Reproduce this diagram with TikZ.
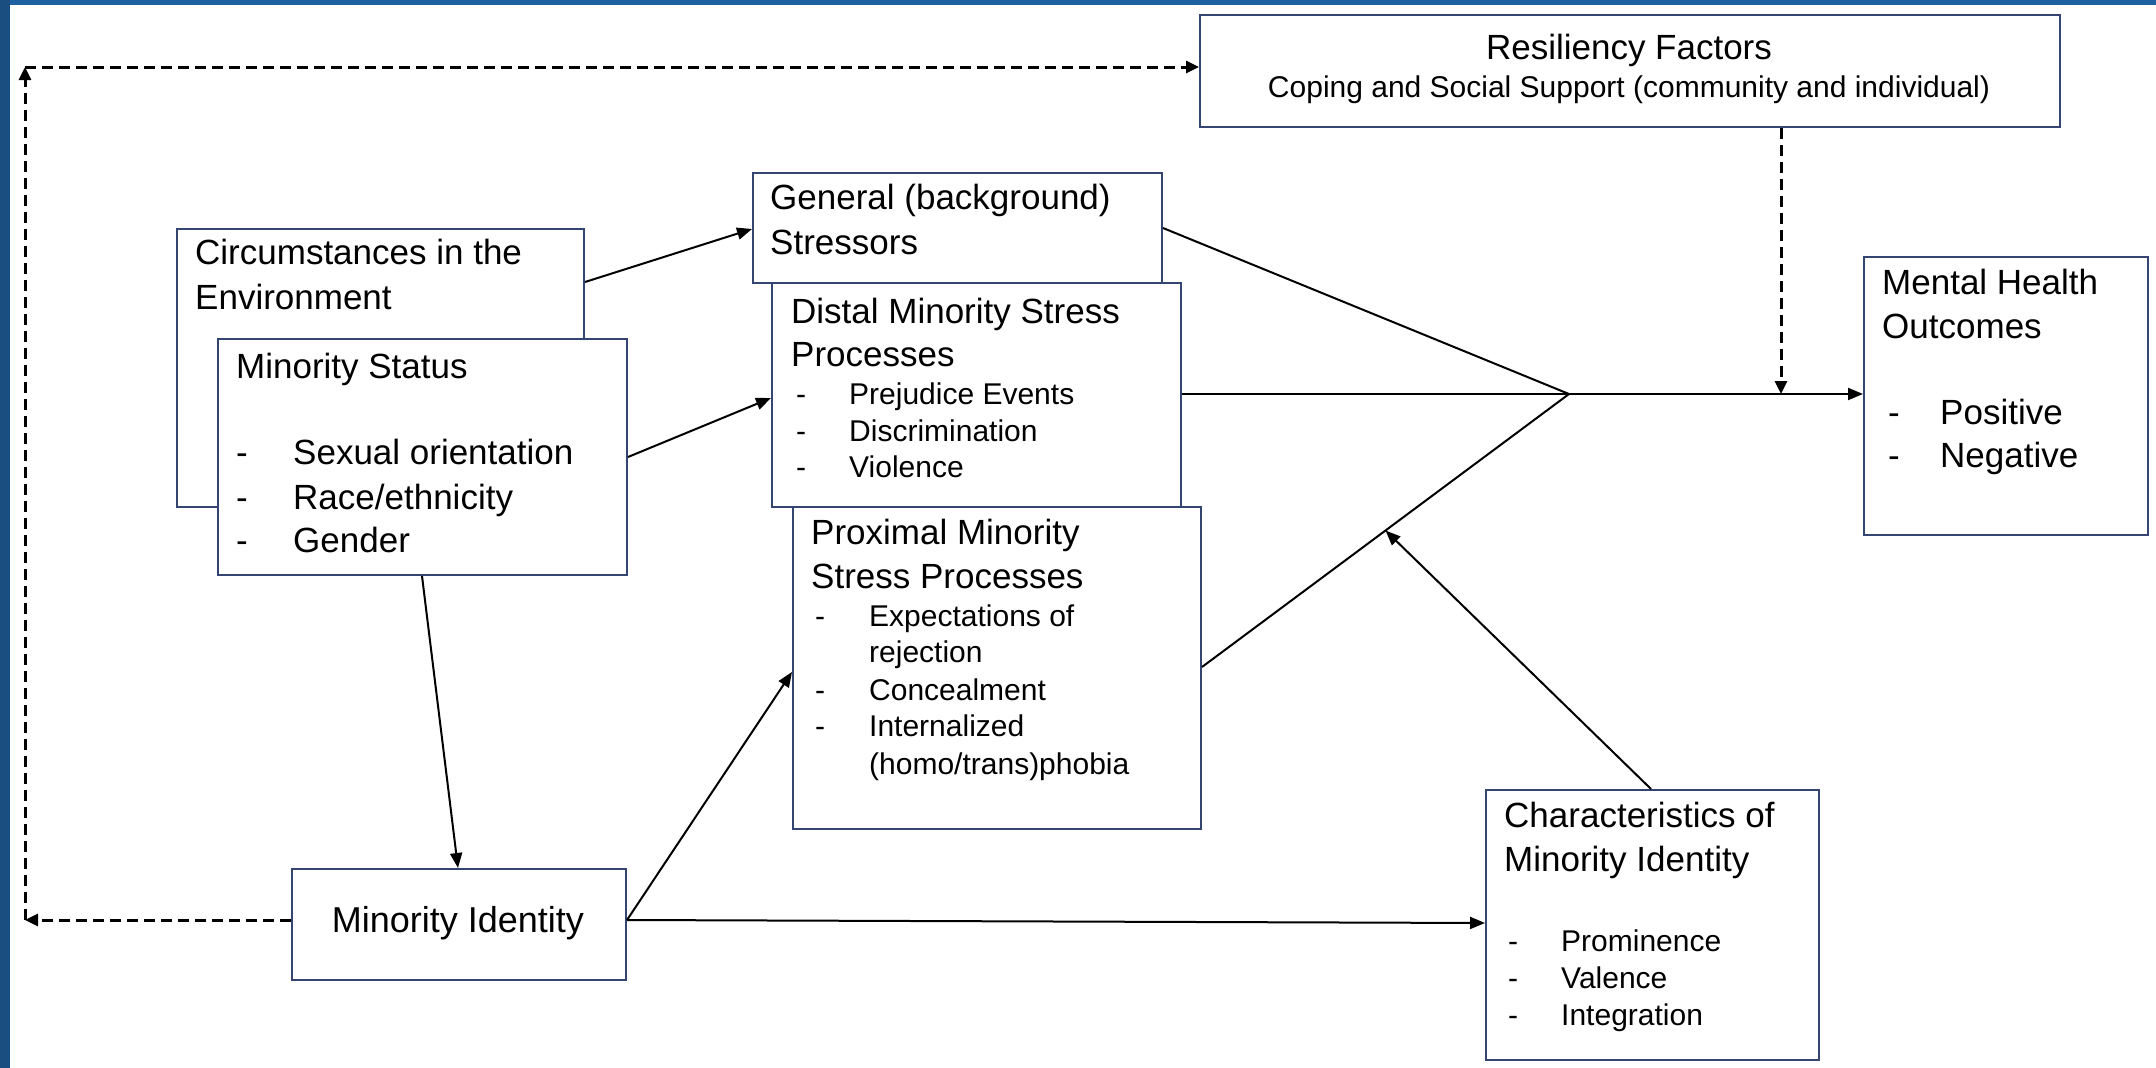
\documentclass[tikz,border=0pt]{standalone}
\usepackage{fontspec}
\setmainfont{Liberation Sans}
\usetikzlibrary{arrows.meta,calc}
\definecolor{boxline}{RGB}{52,69,115}
\definecolor{frametop}{RGB}{31,96,160}
\definecolor{frameleft}{RGB}{27,78,128}
\begin{document}
\begin{tikzpicture}[x=1pt,y=-1pt,
  box/.style={draw=boxline,line width=2pt,fill=white,inner sep=0pt,anchor=north west},
  big/.style={inner sep=0pt,anchor=base west,font=\fontsize{35}{42}\selectfont},
  small/.style={inner sep=0pt,anchor=base west,font=\fontsize{30}{36}\selectfont},
  conn/.style={line width=2pt,-{Triangle[length=15pt,width=12pt]}},
  plainline/.style={line width=2pt},
  dashconn/.style={line width=3pt,dash pattern=on 11pt off 6pt,-{Triangle[length=13pt,width=12pt]}}
]
\useasboundingbox (0,0) rectangle (2156,1068);
\fill[white] (0,0) rectangle (2156,1068);
\fill[frametop] (0,0) rectangle (2156,5);
\fill[frameleft] (0,0) rectangle (10,1068);

% boxes
\node[box,minimum width=860pt,minimum height=112pt] (res) at (1199,14) {};
\node[box,minimum width=407pt,minimum height=278pt] (circ) at (176,228) {};
\node[box,minimum width=409pt,minimum height=236pt] (ms) at (217,338) {};
\node[box,minimum width=409pt,minimum height=110pt] (gen) at (752,172) {};
\node[box,minimum width=409pt,minimum height=224pt] (dist) at (771,282) {};
\node[box,minimum width=408pt,minimum height=322pt] (prox) at (792,506) {};
\node[box,minimum width=284pt,minimum height=278pt] (mh) at (1863,256) {};
\node[box,minimum width=333pt,minimum height=270pt] (chr) at (1485,789) {};
\node[box,minimum width=334pt,minimum height=111pt] (mi) at (291,868) {};

% texts
\node[big,anchor=base] (resT1) at (1629,59) {Resiliency Factors};
\node[small,anchor=base] (resT2) at (1629,97) {Coping and Social Support (community and individual)};

\node[big] (circT1) at (195,264) {Circumstances in the};
\node[big] (circT2) at (195,309) {Environment};

\node[big] (msT1) at (236,378) {Minority Status};
\node[big] (msD1) at (236,464) {-};
\node[big] (msT2) at (293,464) {Sexual orientation};
\node[big] (msD2) at (236,509) {-};
\node[big] (msT3) at (293,509) {Race/ethnicity};
\node[big] (msD3) at (236,552) {-};
\node[big] (msT4) at (293,552) {Gender};

\node[big] (genT1) at (770,209) {General (background)};
\node[big] (genT2) at (770,254) {Stressors};

\node[big] (distT1) at (791,323) {Distal Minority Stress};
\node[big] (distT2) at (791,366) {Processes};
\node[small] (distD1) at (796,404) {-};
\node[small] (distT3) at (849,404) {Prejudice Events};
\node[small] (distD2) at (796,441) {-};
\node[small] (distT4) at (849,441) {Discrimination};
\node[small] (distD3) at (796,477) {-};
\node[small] (distT5) at (849,477) {Violence};

\node[big] (proxT1) at (811,544) {Proximal Minority};
\node[big] (proxT2) at (811,588) {Stress Processes};
\node[small] (proxD1) at (815,626) {-};
\node[small] (proxT3) at (869,626) {Expectations of};
\node[small] (proxT4) at (869,662) {rejection};
\node[small] (proxD2) at (815,700) {-};
\node[small] (proxT5) at (869,700) {Concealment};
\node[small] (proxD3) at (815,736) {-};
\node[small] (proxT6) at (869,736) {Internalized};
\node[small] (proxT7) at (869,774) {(homo/trans)phobia};

\node[big] (mhT1) at (1882,294) {Mental Health};
\node[big] (mhT2) at (1882,338) {Outcomes};
\node[big] (mhD1) at (1888,424) {-};
\node[big] (mhT3) at (1940,424) {Positive};
\node[big] (mhD2) at (1888,467) {-};
\node[big] (mhT4) at (1940,467) {Negative};

\node[big] (chrT1) at (1504,827) {Characteristics of};
\node[big] (chrT2) at (1504,871) {Minority Identity};
\node[small] (chrD1) at (1508,951) {-};
\node[small] (chrT3) at (1561,951) {Prominence};
\node[small] (chrD2) at (1508,988) {-};
\node[small] (chrT4) at (1561,988) {Valence};
\node[small] (chrD3) at (1508,1025) {-};
\node[small] (chrT5) at (1561,1025) {Integration};

\node[big,anchor=base,font=\fontsize{36}{42}\selectfont] (miT) at (458,932) {Minority Identity};

% connectors
\coordinate (J) at (1569,394);
\coordinate (TL) at (25,67);
\coordinate (BL) at (25,920);

\draw[conn] ($(circ.north east)+(0,54)$) -- ($(gen.north west)+(0,57)$);
\draw[conn] ($(ms.north east)+(0,119)$) -- ($(dist.north west)+(0,116)$);
\draw[conn] ($(ms.south west)+(205,0)$) -- ($(mi.north west)+(167,0)$);
\draw[conn] ($(mi.north east)+(0,52)$) -- ($(prox.north west)+(0,166)$);
\draw[conn] ($(mi.north east)+(0,52)$) -- ($(chr.north west)+(0,134)$);

\draw[plainline] ($(gen.north east)+(0,56)$) -- (J);
\draw[plainline] ($(prox.north east)+(0,161)$) coordinate (pe) -- (J);
\draw[conn] (dist.east |- J) -- (mh.west |- J);
\draw[conn] ($(chr.north west)+(166,0)$) -- ($(pe)!0.5!(J)$);

\draw[dashconn] ($(res.south west)+(582,0)$) coordinate (rd) -- (rd |- J);
\draw[dashconn] ($(mi.north west)+(0,52)$) -- (BL);
\draw[dashconn] (BL) -- (TL);
\draw[dashconn] (TL) -- (res.west |- TL);
\end{tikzpicture}
\end{document}
